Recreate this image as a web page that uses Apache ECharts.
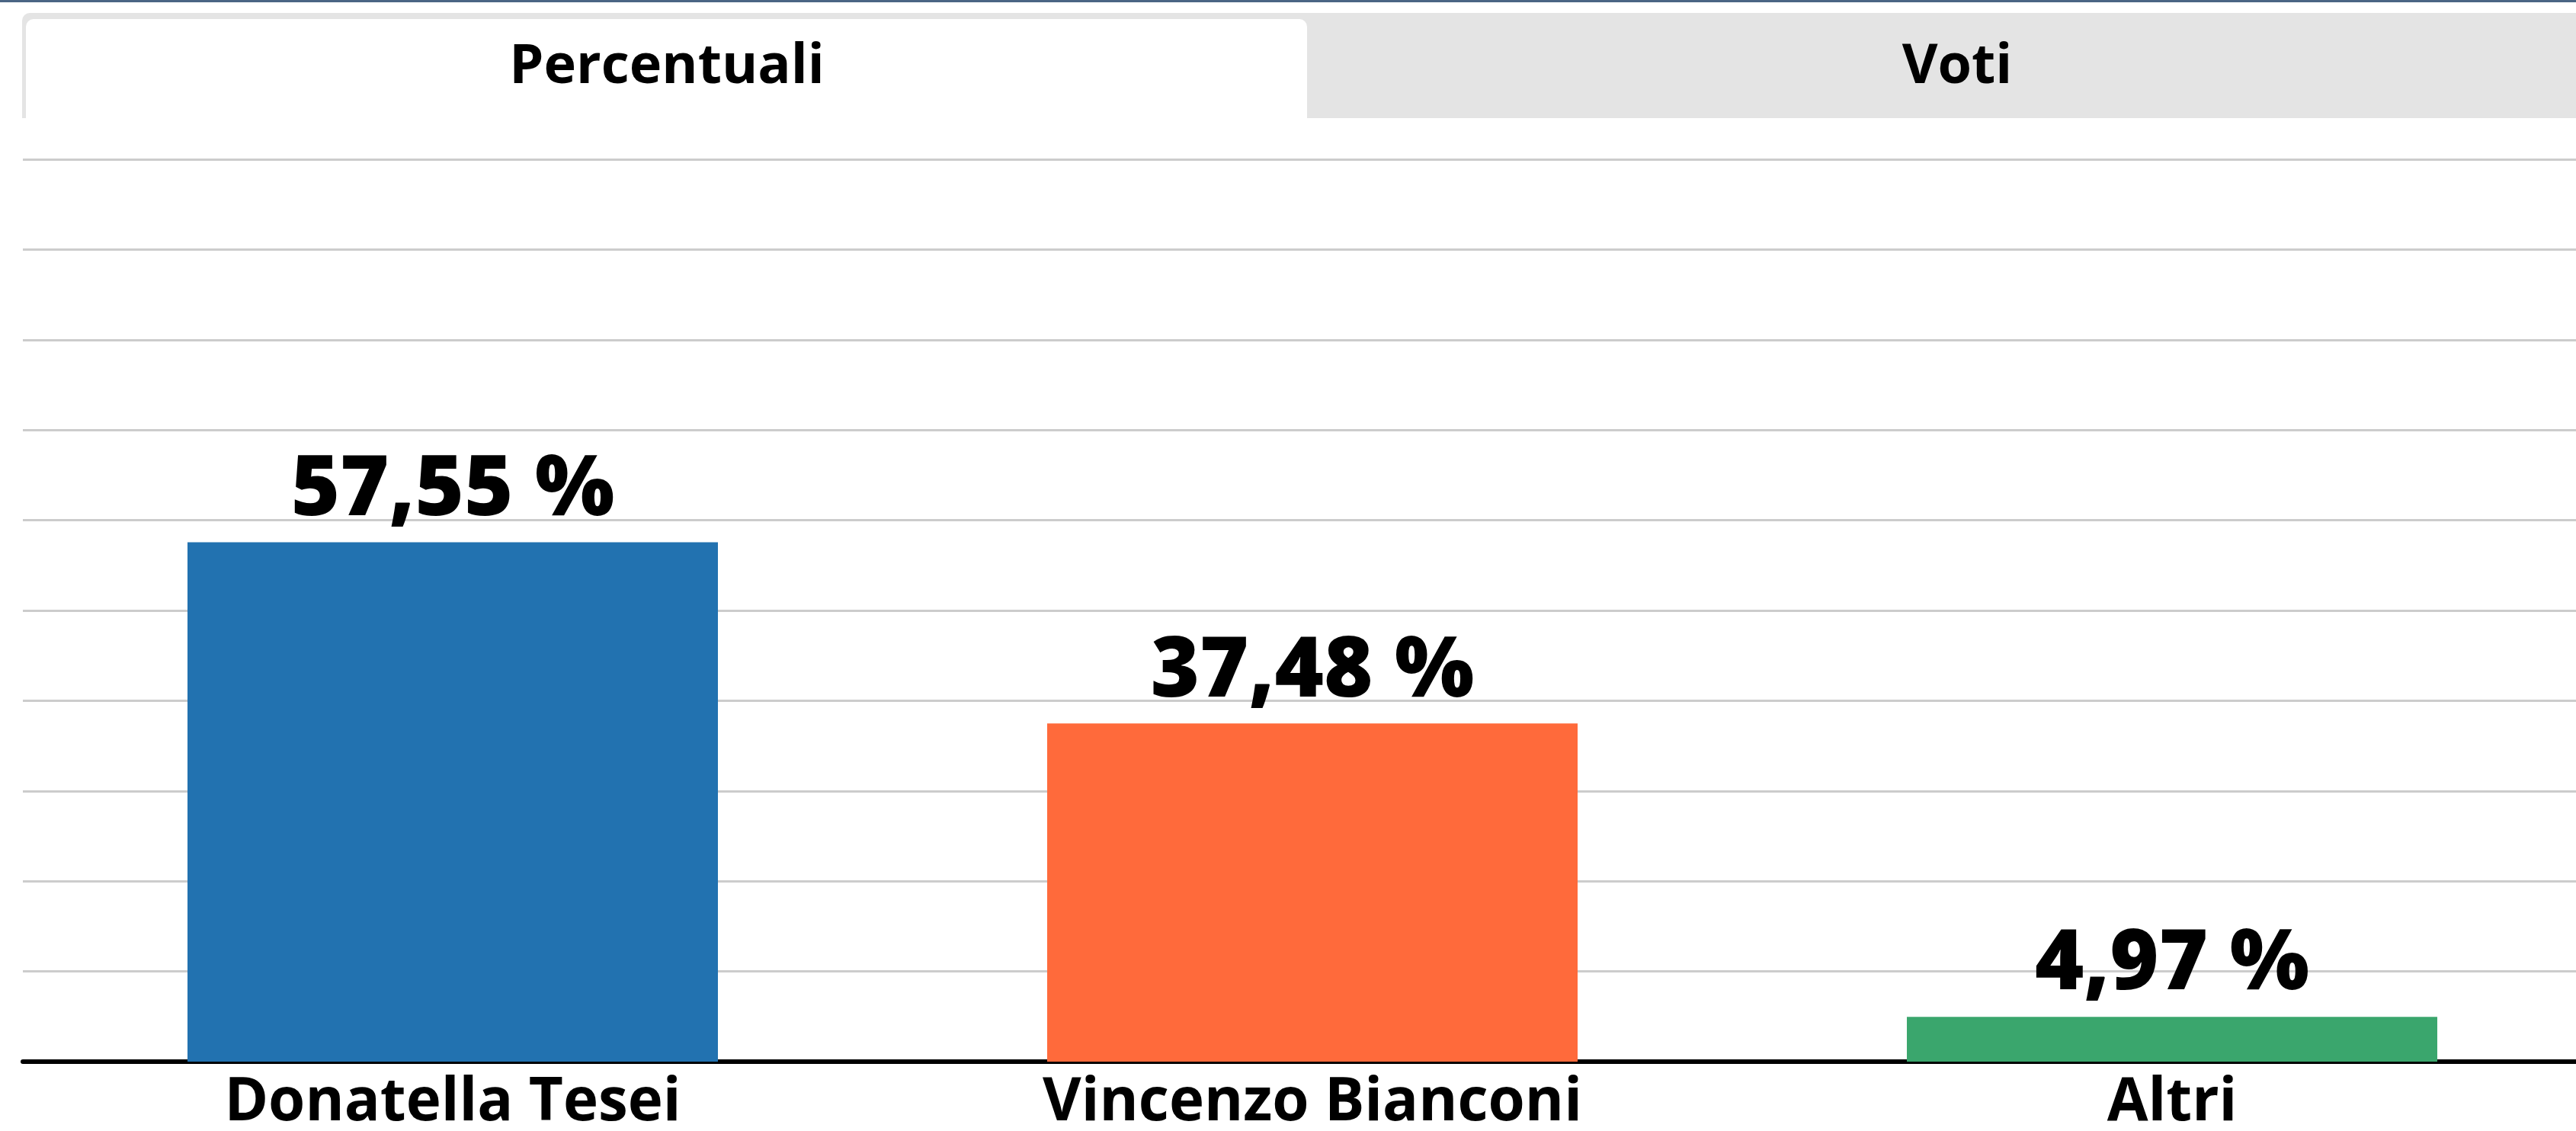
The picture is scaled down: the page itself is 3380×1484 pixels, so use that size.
<!DOCTYPE html>
<html lang="it">
  <head>
    <meta charset="UTF-8" />
    <title>Percentuali</title>
    <style>
      * {
        padding: 0;
        margin: 0;
      }
      body {
        width: 3380px;
        height: 1484px;
        overflow: hidden;
        background: #fff;
      }
      #chart {
        width: 3414px;
        height: 1484px;
      }
    </style>
    <script src="https://cdn.jsdelivr.net/npm/echarts@6/dist/echarts.min.js"></script>
  </head>
  <body>
    <div id="chart"></div>
    <script type="text/javascript">
      // dati
      const candidati = ['Donatella Tesei', 'Vincenzo Bianconi', 'Altri']
      const percentuali = [57.55, 37.48, 4.97]
      const colori = ['#2272b0', '#ff6a3b', '#3aa66d']
      const schede = ['Percentuali', 'Voti']

      const font = '"Open Sans", "Liberation Sans", sans-serif'
      const chart = echarts.init(document.getElementById('chart'))

      const option = {
        animation: false,
        grid: {
          left: 30,
          right: 0,
          top: 209,
          bottom: 91,
          containLabel: false,
          outerBoundsMode: 'none',
        },
        xAxis: {
          type: 'category',
          data: candidati,
          axisLine: { lineStyle: { color: '#000', width: 6 } },
          axisTick: { show: false },
          axisLabel: {
            color: '#000',
            fontFamily: font,
            fontWeight: 'bold',
            fontSize: 78,
            margin: 16,
          },
        },
        yAxis: {
          type: 'value',
          min: 0,
          max: 100,
          interval: 10,
          axisLabel: { show: false },
          axisLine: { show: false },
          axisTick: { show: false },
          splitLine: { lineStyle: { color: '#cccccc', width: 3 } },
        },
        series: [
          {
            type: 'bar',
            barWidth: '61.7%',
            data: percentuali.map((v, i) => ({
              value: v,
              itemStyle: { color: colori[i] },
            })),
            label: {
              show: true,
              position: 'top',
              distance: 12,
              color: '#000',
              fontFamily: font,
              fontWeight: 800,
              fontSize: 110,
              formatter: (p) => p.value.toFixed(2).replace('.', ',') + ' %',
            },
          },
        ],
        // schede in alto
        graphic: [
          {
            type: 'rect',
            shape: { x: 0, y: 0, width: 3414, height: 3 },
            style: { fill: '#4a6584' },
          },
          {
            type: 'rect',
            shape: { x: 29, y: 17, width: 3400, height: 138, r: [10, 0, 0, 0] },
            style: { fill: '#e4e4e4' },
          },
          {
            type: 'rect',
            shape: { x: 34, y: 25, width: 1681, height: 135, r: [10, 10, 0, 0] },
            style: { fill: '#ffffff' },
          },
          {
            type: 'text',
            x: 875,
            y: 88,
            style: {
              text: schede[0],
              fill: '#000',
              font: 'bold 72px ' + font,
              align: 'center',
              verticalAlign: 'middle',
            },
          },
          {
            type: 'text',
            x: 2568,
            y: 88,
            style: {
              text: schede[1],
              fill: '#000',
              font: 'bold 72px ' + font,
              align: 'center',
              verticalAlign: 'middle',
            },
          },
        ],
      }

      chart.setOption(option)
    </script>
  </body>
</html>
